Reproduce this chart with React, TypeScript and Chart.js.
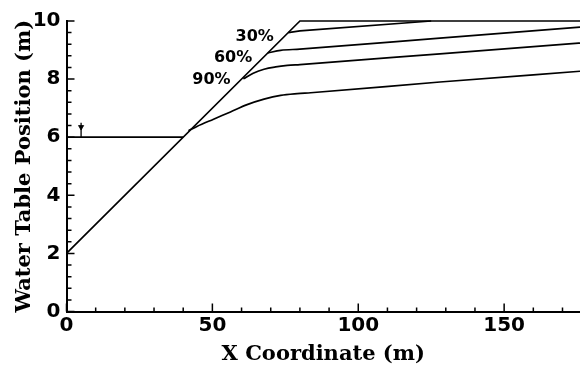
import React, { useEffect, useRef } from "react";
import { Chart, registerables } from "chart.js";

Chart.register(...registerables);

// ---- data ----
const xMin = 0;
const xMax = 176;
const yMin = 0;
const yMax = 10;
const xMajorTicks = [0, 50, 100, 150];
const xMinorTicks = [10, 20, 30, 40, 60, 70, 80, 90, 110, 120, 130, 140, 160, 170];
const yMajorTicks = [0, 2, 4, 6, 8, 10];
const yMinorTicks = [0.4, 0.8, 1.2, 1.6, 2.4, 2.8, 3.2, 3.6, 4.4, 4.8, 5.2, 5.6, 6.4, 6.8, 7.2, 7.6, 8.4, 8.8, 9.2, 9.6];

const slopeX = [0, 80, 176];
const slopeY = [2, 10, 10];
const lakeX = [0, 40];
const lakeY = [6, 6];
const arrowX = [5, 5];
const arrowY = [6.5, 6.0];
const arrowHeadX = [5];
const arrowHeadY = [6.35];

const curveTopX = [76, 80, 125];
const curveTopY = [9.6, 9.66, 10.0];
const curve30X = [69.0, 73.4, 80, 128, 176];
const curve30Y = [8.9, 8.99, 9.03, 9.41, 9.79];
const curve60X = [60.6, 64, 67.7, 71.7, 75.7, 80, 128, 176];
const curve60Y = [8.01, 8.2, 8.34, 8.42, 8.47, 8.5, 8.87, 9.24];
const curve90X = [41.8, 44.7, 50.4, 56.2, 61.9, 67.7, 73.4, 79.1, 83.7, 128, 176];
const curve90Y = [6.22, 6.37, 6.62, 6.87, 7.12, 7.31, 7.44, 7.5, 7.53, 7.9, 8.27];

const annotationTexts = ["30%", "60%", "90%"];
const annotationX = [64.5, 57.1, 49.7];
const annotationY = [9.44, 8.72, 7.96];

const xTitle = "X Coordinate (m)";
const yTitle = "Water Table Position (m)";

const pts = (xs: number[], ys: number[]) => xs.map((x, i) => ({ x, y: ys[i] }));

const tickFont = { family: "'DejaVu Sans'", size: 20, weight: "bold" as const };
const titleFont = { family: "'DejaVu Serif'", size: 21, weight: "bold" as const };

const inwardTicks = {
  id: "inwardTicks",
  afterDraw(chart: any) {
    const { ctx, chartArea } = chart;
    const xs = chart.scales.x;
    const ys = chart.scales.y;
    const bottom = chartArea.bottom;
    const left = chartArea.left;
    ctx.save();
    ctx.strokeStyle = "#000";
    ctx.lineWidth = 1.5;
    ctx.beginPath();
    xMajorTicks.forEach((v) => {
      const p = xs.getPixelForValue(v);
      ctx.moveTo(p, bottom);
      ctx.lineTo(p, bottom - 8);
    });
    xMinorTicks.forEach((v) => {
      const p = xs.getPixelForValue(v);
      ctx.moveTo(p, bottom);
      ctx.lineTo(p, bottom - 4);
    });
    yMajorTicks.forEach((v) => {
      const p = ys.getPixelForValue(v);
      ctx.moveTo(left, p);
      ctx.lineTo(left + 8, p);
    });
    yMinorTicks.forEach((v) => {
      const p = ys.getPixelForValue(v);
      ctx.moveTo(left, p);
      ctx.lineTo(left + 5, p);
    });
    ctx.stroke();

    ctx.fillStyle = "#000";
    ctx.font = "bold 16px 'DejaVu Sans'";
    ctx.textAlign = "center";
    ctx.textBaseline = "middle";
    annotationTexts.forEach((t, i) => {
      ctx.fillText(t, xs.getPixelForValue(annotationX[i]), ys.getPixelForValue(annotationY[i]));
    });
    ctx.restore();
  },
};

const lineDs = (data: { x: number; y: number }[], extra: any = {}) => ({
  data,
  borderColor: "#000",
  backgroundColor: "#000",
  borderWidth: 1.7,
  pointRadius: 0,
  showLine: true,
  fill: false,
  clip: false,
  tension: 0,
  cubicInterpolationMode: "default",
  ...extra,
});

export default function App() {
  const ref = useRef<HTMLCanvasElement | null>(null);

  useEffect(() => {
    if (!ref.current) return;
    const chart = new Chart(ref.current, {
      type: "line",
      data: {
        datasets: [
          lineDs(pts(slopeX, slopeY)),
          lineDs(pts(lakeX, lakeY)),
          lineDs(pts(arrowX, arrowY), { borderWidth: 1.3 }),
          lineDs(pts(arrowHeadX, arrowHeadY), {
            showLine: false,
            pointRadius: 3,
            pointStyle: "triangle",
            rotation: 180,
            pointBorderWidth: 0.8,
          }),
          lineDs(pts(curveTopX, curveTopY)),
          lineDs(pts(curve30X, curve30Y), { cubicInterpolationMode: "monotone" }),
          lineDs(pts(curve60X, curve60Y), { cubicInterpolationMode: "monotone" }),
          lineDs(pts(curve90X, curve90Y), { cubicInterpolationMode: "monotone" }),
        ] as any,
      },
      options: {
        responsive: false,
        animation: false,
        layout: { autoPadding: false, padding: { top: 21, left: 0, right: 0, bottom: 0 } },
        plugins: { legend: { display: false }, tooltip: { enabled: false } },
        scales: {
          x: {
            type: "linear",
            min: xMin,
            max: xMax,
            grid: { display: false, drawTicks: false },
            border: { display: true, color: "#000", width: 2 },
            afterBuildTicks: (s: any) => {
              s.ticks = xMajorTicks.map((v) => ({ value: v }));
            },
            afterFit: (s: any) => {
              s.height = 57.5;
            },
            ticks: { color: "#000", font: tickFont, padding: 2, maxRotation: 0, autoSkip: false },
            title: { display: true, text: xTitle, color: "#000", font: titleFont, padding: { top: 0, bottom: 2 } },
          },
          y: {
            type: "linear",
            min: yMin,
            max: yMax,
            grid: { display: false, drawTicks: false },
            border: { display: true, color: "#000", width: 2 },
            afterBuildTicks: (s: any) => {
              s.ticks = yMajorTicks.map((v) => ({ value: v }));
            },
            afterFit: (s: any) => {
              s.width = 66.5;
            },
            ticks: { color: "#000", font: tickFont, padding: 6, autoSkip: false },
            title: { display: true, text: yTitle, color: "#000", font: titleFont, padding: { top: 12, bottom: 0 } },
          },
        },
      },
      plugins: [inwardTicks],
    });
    return () => chart.destroy();
  }, []);

  return (
    <div style={{ position: "fixed", left: 0, top: 0, width: 580, height: 369, background: "#fff" }}>
      <canvas ref={ref} width={580} height={369} style={{ display: "block" }} />
    </div>
  );
}
